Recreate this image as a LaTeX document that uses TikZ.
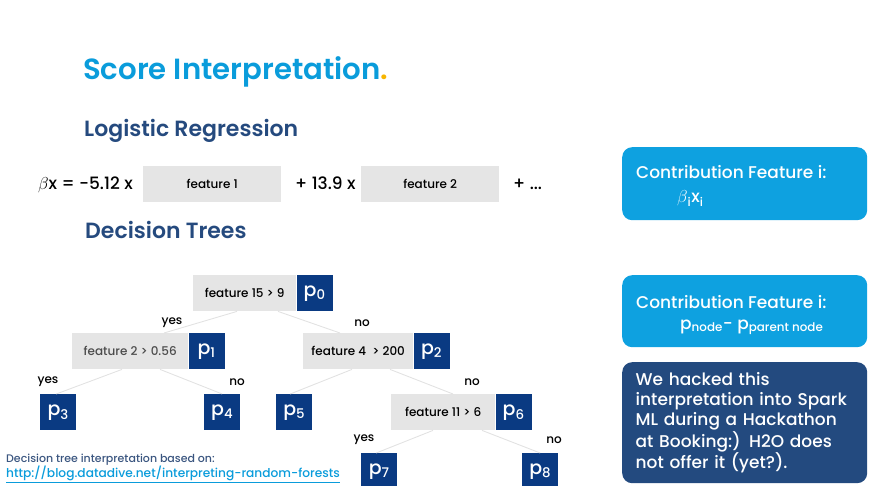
\documentclass[tikz,border=0pt]{standalone}
\usepackage{fontspec}
\setmainfont{Poppins}[UprightFont={* Medium}, BoldFont={* SemiBold}]
\usetikzlibrary{positioning}
\usetikzlibrary{calc}
\definecolor{titleblue}{HTML}{0A9CDB}
\definecolor{dotorange}{HTML}{F7B500}
\definecolor{headblue}{HTML}{254A7E}
\definecolor{condgray}{HTML}{E5E5E5}
\definecolor{pnavy}{HTML}{0A3A82}
\definecolor{boxblue}{HTML}{0EA1E0}
\definecolor{boxnavy}{HTML}{234A7F}
\definecolor{branchgray}{HTML}{E2E2E2}
\definecolor{notegray}{HTML}{3B5680}
\tikzset{
  cond/.style={fill=condgray, anchor=north west, minimum height=36, inner sep=0, font=\fontsize{12}{14}\selectfont},
  pval/.style={fill=pnavy, text=white, minimum width=36, minimum height=36, inner sep=0, font=\fontsize{19}{20}\selectfont},
  branch/.style={draw=branchgray, line width=0.9},
  answer/.style={font=\fontsize{12}{14}\selectfont},
  heading/.style={anchor=base west, text=headblue, inner sep=0, font=\bfseries\fontsize{22}{24}\selectfont},
  infobox/.style={anchor=north west, rounded corners=10, minimum width=245, text=white, align=left, text width=218, inner xsep=13.5, font=\fontsize{17}{20}\selectfont},
  infoline/.style={anchor=base west, inner sep=0, text=white, font=\fontsize{17}{20}\selectfont}
}

\begin{document}
\begin{tikzpicture}[x=1pt, y=-1pt]
\useasboundingbox (0,0) rectangle (872,486);

\node[anchor=base west, inner sep=0, font=\bfseries\fontsize{29.2}{32}\selectfont] (title) at (83,80)
    {\textcolor{titleblue}{Score Interpretation}\textcolor{dotorange}{.}};
\node[heading] (lr) at (84,137) {Logistic Regression};
\node[heading] (dt) at (85,239) {Decision Trees};

\node[anchor=base west, inner sep=0, font=\fontsize{17}{20}\selectfont] (beta) at (38,190) {$\beta$x = -5.12 x};
\node[cond, minimum width=138] (f1) at (143,166) {feature 1};
\node[anchor=base west, inner sep=0, font=\fontsize{17}{20}\selectfont] (coef2) at (295,190) {+ 13.9 x};
\node[cond, minimum width=138] (f2) at (361,166) {feature 2};
\node[anchor=base west, inner sep=0, font=\fontsize{17}{20}\selectfont] (more) at (513,190) {+ ...};

\node[cond, minimum width=103] (c0) at (193,275) {feature 15 > 9};
\node[pval, right=0pt of c0] (p0) {p\textsubscript{0}};
\node[cond, minimum width=116, text=black!70] (c1) at (72,333) {feature 2 > 0.56};
\node[pval, right=0pt of c1] (p1) {p\textsubscript{1}};
\node[cond, minimum width=110] (c2) at (303,333) {feature 4 \ > 200};
\node[pval, right=0pt of c2] (p2) {p\textsubscript{2}};
\node[pval, anchor=north west] (p3) at (40,394) {p\textsubscript{3}};
\node[pval, anchor=north west] (p4) at (204,394) {p\textsubscript{4}};
\node[pval, anchor=north west] (p5) at (276,394) {p\textsubscript{5}};
\node[cond, minimum width=104] (c6) at (391,394) {feature 11 > 6};
\node[pval, right=0pt of c6] (p6) {p\textsubscript{6}};
\node[pval, anchor=north west] (p7) at (361,453) {p\textsubscript{7}};
\node[pval, anchor=north west] (p8) at (522,453) {p\textsubscript{8}};

\draw[branch] ([xshift=44]c0.south west) -- ([xshift=92]c1.north west);
\draw[branch] ([xshift=85]c0.south west) -- ([xshift=37]c2.north west);
\draw[branch] ([xshift=50]c1.south west) -- ([xshift=-2]p3.north);
\draw[branch] ([xshift=88]c1.south west) -- (p4.north);
\draw[branch] ([xshift=49]c2.south west) -- ([xshift=-4]p5.north);
\draw[branch] ([xshift=87]c2.south west) -- ([xshift=62]c6.north west);
\draw[branch] ([xshift=42]c6.south west) -- ([xshift=-3]p7.north);
\draw[branch] ([xshift=91]c6.south west) -- (p8.north);

\node[answer] (y0) at (172,323) {yes};
\node[answer] (n0) at (362,323) {no};
\node[answer] (y1) at (48,382) {yes};
\node[answer] (n1) at (237,382) {no};
\node[answer] (n2) at (472,382) {no};
\node[answer] (y6) at (364,440) {yes};
\node[answer] (n6) at (554,440) {no};

\node[infobox, fill=boxblue, minimum height=73] (info1) at (622,147) {};
\node[infoline] (info1a) at (636,179) {Contribution Feature i:};
\node[infoline] (info1b) at (677,203) {$\beta$\textsubscript{i}x\textsubscript{i}};
\node[infobox, fill=boxblue, minimum height=72] (info2) at (622,275) {};
\node[infoline] (info2a) at (636,308) {Contribution Feature i:};
\node[infoline] (info2b) at (680,329) {p\textsubscript{node}- p\textsubscript{parent node}};
\node[infobox, fill=boxnavy, minimum height=121] (info3) at (622,362)
    {We hacked this\\interpretation into Spark\\ML during a Hackathon\\at Booking:) H2O does\\not offer it (yet?).};

\node[anchor=base west, inner sep=0, text=notegray, font=\fontsize{11}{14}\selectfont] (note) at (6,462)
    {Decision tree interpretation based on:};
\node[anchor=base west, inner sep=0, text=titleblue, font=\fontsize{12.2}{14}\selectfont] (url) at (6,477)
    {\underline{http://blog.datadive.net/interpreting-random-forests}};
\end{tikzpicture}
\end{document}
